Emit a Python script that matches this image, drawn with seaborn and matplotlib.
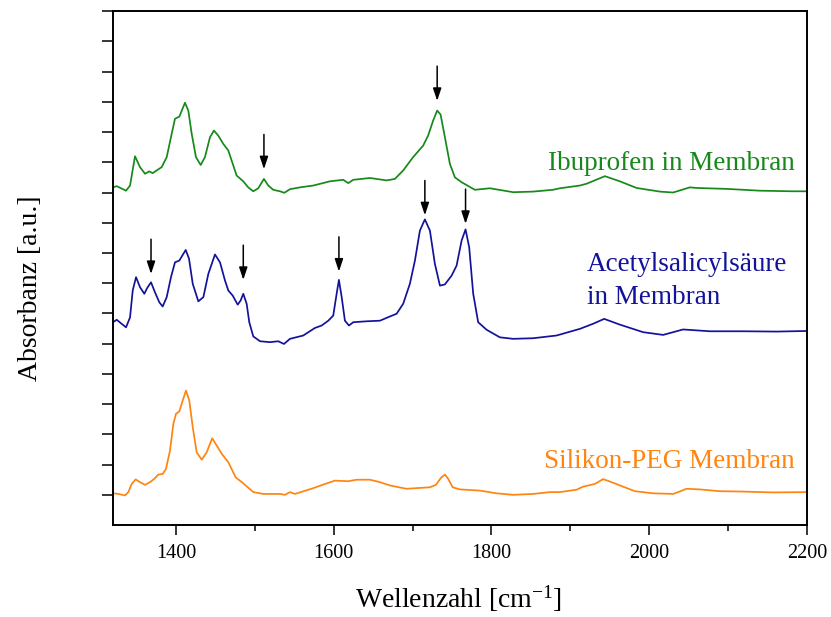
import numpy as np
import pandas as pd
import seaborn as sns
import matplotlib
matplotlib.use("Agg")
import matplotlib.pyplot as plt
from matplotlib.ticker import MultipleLocator, FixedLocator, NullFormatter
from matplotlib.transforms import offset_copy

# --- IR spectra (wavenumber in cm^-1, absorbance in a.u., offset per trace) ---
ibu_wn = [1320, 1324.7, 1336.5, 1341.6, 1347.9, 1354.2, 1360.6, 1366.0, 1370.3, 1375.4,
          1381.7, 1388.1, 1394.4, 1398.6, 1404.1, 1411.3, 1415.5, 1419.8, 1425.2, 1431.2,
          1436.6, 1443.0, 1448.0, 1453.5, 1459.8, 1466.2, 1471.8, 1476.8, 1485.2, 1491.5,
          1497.9, 1504.2, 1511.4, 1516.9, 1523.2, 1531.7, 1537.2, 1544.4, 1557.1, 1573.9,
          1595.1, 1612.0, 1618.3, 1624.7, 1645.8, 1667.0, 1677.5, 1688.0, 1700.6, 1713.3,
          1719.6, 1726.0, 1731.1, 1735.4, 1740.9, 1747.2, 1753.6, 1762.1, 1778.9, 1798.0,
          1827.5, 1852.9, 1878.2, 1886.7, 1912.1, 1920.6, 1943.8, 1962.8, 1984.0, 2013.5,
          2030.3, 2051.5, 2060.0, 2098.0, 2140.3, 2182.5, 2200]
ibu_abs = [1.017, 1.021, 1.006, 1.023, 1.120, 1.084, 1.062, 1.070, 1.064, 1.073,
           1.084, 1.117, 1.194, 1.244, 1.251, 1.297, 1.271, 1.194, 1.117, 1.091,
           1.117, 1.183, 1.205, 1.188, 1.161, 1.139, 1.095, 1.056, 1.037, 1.017,
           1.004, 1.014, 1.045, 1.023, 1.009, 1.004, 0.999, 1.011, 1.017, 1.023,
           1.037, 1.042, 1.031, 1.042, 1.048, 1.040, 1.045, 1.073, 1.117, 1.155,
           1.188, 1.238, 1.271, 1.258, 1.183, 1.095, 1.050, 1.034, 1.009, 1.014,
           1.001, 1.003, 1.009, 1.014, 1.023, 1.029, 1.054, 1.037, 1.015, 1.003,
           1.000, 1.017, 1.015, 1.012, 1.006, 1.004, 1.004]

ass_wn = [1320, 1324.7, 1336.5, 1341.6, 1345.0, 1349.2, 1354.2, 1359.7, 1363.5, 1368.2,
          1373.2, 1378.7, 1383.0, 1388.1, 1393.5, 1398.6, 1404.1, 1412.2, 1416.4, 1421.1,
          1428.2, 1434.6, 1440.9, 1449.3, 1455.7, 1462.0, 1466.2, 1471.8, 1478.1, 1481.9,
          1485.2, 1489.5, 1492.8, 1497.9, 1506.4, 1519.0, 1529.6, 1536.8, 1544.4, 1561.3,
          1576.1, 1584.6, 1593.0, 1599.3, 1603.6, 1606.5, 1610.0, 1614.1, 1619.2, 1624.7,
          1641.7, 1658.5, 1671.2, 1679.7, 1688.0, 1696.5, 1702.9, 1709.2, 1715.5, 1721.9,
          1728.2, 1734.6, 1740.9, 1749.4, 1755.7, 1762.1, 1767.1, 1771.7, 1776.8, 1783.1,
          1793.8, 1810.6, 1827.5, 1852.9, 1882.5, 1912.1, 1929.0, 1942.9, 1962.8, 1992.3,
          2017.7, 2043.0, 2076.9, 2119.1, 2161.4, 2200]
ass_abs = [0.571, 0.579, 0.554, 0.587, 0.676, 0.720, 0.687, 0.665, 0.685, 0.703,
           0.670, 0.637, 0.623, 0.654, 0.720, 0.769, 0.775, 0.810, 0.781, 0.698,
           0.640, 0.654, 0.731, 0.795, 0.769, 0.709, 0.676, 0.659, 0.629, 0.643,
           0.665, 0.632, 0.571, 0.524, 0.508, 0.505, 0.508, 0.499, 0.516, 0.527,
           0.552, 0.560, 0.576, 0.593, 0.665, 0.711, 0.654, 0.576, 0.560, 0.571,
           0.574, 0.576, 0.590, 0.599, 0.632, 0.698, 0.775, 0.874, 0.911, 0.874,
           0.764, 0.692, 0.696, 0.725, 0.758, 0.841, 0.878, 0.819, 0.665, 0.571,
           0.546, 0.521, 0.516, 0.518, 0.527, 0.549, 0.566, 0.582, 0.563, 0.538,
           0.529, 0.547, 0.541, 0.541, 0.540, 0.542]

peg_wn = [1320, 1326.7, 1335.2, 1339.4, 1343.7, 1348.7, 1354.2, 1360.6, 1366.9, 1372.4,
          1377.4, 1383.0, 1387.2, 1392.3, 1396.5, 1399.9, 1404.1, 1408.4, 1412.5, 1416.7,
          1421.1, 1426.1, 1432.5, 1438.8, 1445.8, 1451.5, 1457.8, 1466.2, 1475.5, 1485.2,
          1497.9, 1510.6, 1523.2, 1531.7, 1538.1, 1544.4, 1550.7, 1573.9, 1588.8, 1601.5,
          1618.3, 1628.9, 1645.8, 1658.5, 1671.2, 1692.3, 1721.9, 1729.5, 1735.8, 1740.9,
          1745.1, 1750.7, 1759.9, 1785.3, 1806.5, 1827.5, 1852.9, 1874.0, 1886.7, 1907.9,
          1916.2, 1931.1, 1941.6, 1952.2, 1966.9, 1981.8, 2005.0, 2030.3, 2036.7, 2047.3,
          2064.2, 2089.5, 2114.9, 2157.1, 2200]
peg_abs = [0.005, 0.003, -0.002, 0.009, 0.036, 0.051, 0.042, 0.033, 0.042, 0.053,
           0.067, 0.069, 0.086, 0.147, 0.235, 0.268, 0.276, 0.312, 0.345, 0.312,
           0.224, 0.141, 0.116, 0.141, 0.187, 0.163, 0.136, 0.108, 0.058, 0.038,
           0.009, 0.003, 0.003, 0.003, 0.000, 0.009, 0.003, 0.022, 0.036, 0.047,
           0.045, 0.050, 0.050, 0.042, 0.031, 0.020, 0.025, 0.033, 0.056, 0.067,
           0.053, 0.025, 0.018, 0.014, 0.005, 0.000, 0.003, 0.009, 0.009, 0.017,
           0.027, 0.036, 0.052, 0.042, 0.027, 0.012, 0.005, 0.003, 0.009, 0.020,
           0.018, 0.012, 0.011, 0.008, 0.009]

# marked bands (cm^-1)
ibu_marks = [1511.4, 1731.1]
ass_marks = [1368.2, 1485.2, 1606.5, 1715.5, 1767.1]

names = ["Ibuprofen in Membran", "Acetylsalicylsäure\nin Membran", "Silikon-PEG Membran"]
colors = ["#16891a", "#12129a", "#ff8410"]

df = pd.concat([
    pd.DataFrame({"wn": ibu_wn, "A": ibu_abs, "probe": names[0]}),
    pd.DataFrame({"wn": ass_wn, "A": ass_abs, "probe": names[1]}),
    pd.DataFrame({"wn": peg_wn, "A": peg_abs, "probe": names[2]}),
], ignore_index=True)

sns.set_style("ticks")
plt.rcParams["font.family"] = ["Liberation Serif", "DejaVu Serif"]
plt.rcParams["mathtext.fontset"] = "custom"
plt.rcParams["mathtext.rm"] = "Liberation Serif"
plt.rcParams["text.color"] = "black"
plt.rcParams["axes.labelcolor"] = "black"
plt.rcParams["xtick.color"] = "black"
plt.rcParams["ytick.color"] = "black"

fig = plt.figure(figsize=(8.31, 6.17), dpi=100)
ax = fig.add_axes([0.136, 0.149, 0.835, 0.833])

sns.lineplot(data=df, x="wn", y="A", hue="probe", palette=dict(zip(names, colors)),
             sort=False, estimator=None, linewidth=1.25, legend=False, ax=ax)
for ln in ax.lines:
    ln.set_solid_joinstyle("round")

ax.set_xlim(1320, 2200)
ax.set_ylim(-0.1, 1.6)

# arrows pointing at the characteristic bands
def mark(wns, xs, ys, gaps):
    for w, g in zip(wns, gaps):
        yv = np.interp(w, xs, ys)
        tip = offset_copy(ax.transData, fig=fig, x=0, y=g, units="points")
        ax.annotate("", xy=(w, yv), xycoords=tip,
                    xytext=(0, 25), textcoords="offset points",
                    arrowprops=dict(arrowstyle="-|>,head_length=0.75,head_width=0.25",
                                    color="black", lw=1.1, shrinkA=0, shrinkB=0))

mark(ibu_marks, ibu_wn, ibu_abs, [7, 7])
mark(ass_marks, ass_wn, ass_abs, [6, 10, 6, 3, 4])

# trace labels
ax.text(2184, 1.073, names[0], color=colors[0], fontsize=19.5, ha="right", va="baseline")
ax.text(1920.5, 0.742, names[1].split("\n")[0], color=colors[1], fontsize=19.5,
        ha="left", va="baseline")
ax.text(1920.5, 0.632, names[1].split("\n")[1], color=colors[1], fontsize=19.5,
        ha="left", va="baseline")
ax.text(2184, 0.090, names[2], color=colors[2], fontsize=19.5, ha="right", va="baseline")

# axes styling
ax.xaxis.set_major_locator(MultipleLocator(200))
ax.xaxis.set_minor_locator(FixedLocator([1500, 1700, 1900, 2100]))
ax.yaxis.set_major_locator(FixedLocator(np.round(np.arange(0, 1.61, 0.1), 2)))
ax.yaxis.set_major_formatter(NullFormatter())
ax.tick_params(axis="x", which="major", direction="out", length=7.5, width=1.1,
               labelsize=14.5, pad=6, colors="black")
ax.tick_params(axis="x", which="minor", direction="out", length=4.5, width=1.1,
               colors="black")
ax.tick_params(axis="y", which="major", direction="out", length=8, width=1.1,
               colors="black")
for sp in ax.spines.values():
    sp.set_linewidth(1.4)
    sp.set_color("black")
    sp.set_visible(True)

ax.set_xlabel(r"Wellenzahl [cm$\mathregular{^{-1}}$]", fontsize=20, color="black")
ax.set_ylabel("Absorbanz [a.u.]", fontsize=20, color="black")
ax.xaxis.set_label_coords(0.4985, -0.113)
ax.yaxis.set_label_coords(-0.101, 0.461)

fig.savefig("out.png", dpi=100)
